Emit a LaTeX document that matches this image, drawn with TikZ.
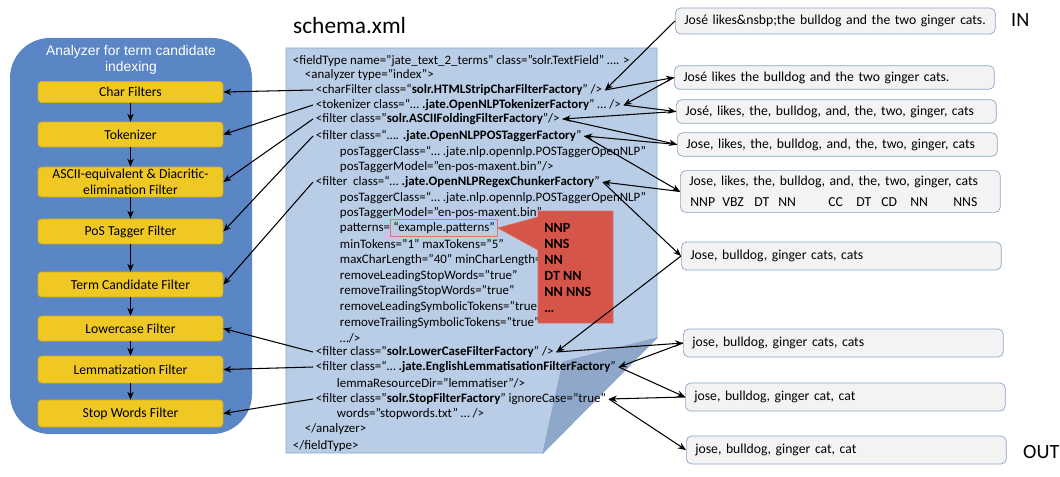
\documentclass[tikz,border=0pt]{standalone}
\usepackage{fontspec}
\setmainfont{Carlito}
\newfontfamily\arialfont{Liberation Sans}
\usetikzlibrary{positioning,arrows.meta}

\definecolor{panelblue}{HTML}{5A86C5}
\definecolor{stepgold}{HTML}{EFC824}
\definecolor{stepedge}{HTML}{D6AE14}
\definecolor{pagefill}{HTML}{B9CDE6}
\definecolor{pageedge}{HTML}{8AA6CE}
\definecolor{pagefold}{HTML}{8FA7C8}
\definecolor{calloutred}{HTML}{D5554A}
\definecolor{outfill}{HTML}{F3F3F3}
\definecolor{outedge}{HTML}{8DA4C6}

\begin{document}
\begin{tikzpicture}[x=0.02cm, y=-0.02cm,
  fbox/.style={fill=stepgold, draw=stepedge, rounded corners=2pt, minimum width=3.7cm, align=center, inner sep=1pt, font=\fontsize{7.8}{9}\selectfont},
  xl/.style={anchor=west, inner sep=1.5pt, font=\fontsize{7.35}{8}\selectfont},
  hl/.style={draw=calloutred!80, inner sep=1.5pt, font=\fontsize{7.35}{8}\selectfont},
  obox/.style={fill=outfill, draw=outedge, rounded corners=3pt, anchor=west, minimum width=6.4cm, text width=6.04cm, inner xsep=0.18cm, align=left, font=\fontsize{7.8}{9}\selectfont},
  tag/.style={anchor=west, inner sep=0pt, font=\fontsize{7.8}{9}\selectfont},
  arr/.style={-{Stealth[length=1.6mm,width=1.3mm]}, line width=0.6pt},
  lb/.style={anchor=west, font=\fontsize{11.5}{12}\selectfont},
]
\useasboundingbox (0,0) rectangle (1060,476);

% analyzer panel
\fill[panelblue, rounded corners=0.8cm] (10,38) rectangle (252,434);
\node[text=white, align=center, font=\arialfont\fontsize{7.9}{9.3}\selectfont] (head) at (131,60) {Analyzer for term candidate\\indexing};
\node[fbox, minimum height=0.42cm] (cf) at (130.5,92) {Char Filters};
\node[fbox, minimum height=0.5cm] (tk) at (130.5,134.5) {Tokenizer};
\node[fbox, minimum height=0.6cm] (af) at (130.5,182) {ASCII-equivalent \& Diacritic-\\elimination Filter};
\node[fbox, minimum height=0.5cm] (pt) at (130.5,231.5) {PoS Tagger Filter};
\node[fbox, minimum height=0.5cm] (tc) at (130.5,284.5) {Term Candidate Filter};
\node[fbox, minimum height=0.5cm] (lc) at (130.5,328.5) {Lowercase Filter};
\node[fbox, minimum height=0.54cm] (lm) at (130.5,369.5) {Lemmatization Filter};
\node[fbox, minimum height=0.54cm] (sw) at (130.5,413.5) {Stop Words Filter};
\foreach \a/\b in {cf/tk, tk/af, af/pt, pt/tc, tc/lc, lc/lm, lm/sw}
  \draw[arr] (\a) -- (\b);

% schema.xml page with folded corner
\node[anchor=west, font=\fontsize{13.3}{15}\selectfont] (title) at (287,25) {schema.xml};
\filldraw[fill=pagefill, draw=pageedge] (286,48) -- (657,48) -- (657,338) -- (563,362) -- (543,453) -- (286,453) -- cycle;
\filldraw[fill=pagefold, draw=pageedge] (657,338) -- (563,362) -- (543,453) -- cycle;

\node[xl] (x1) at (290,61) {<fieldType name="jate\_text\_2\_terms" class="solr.TextField” …. >};
\node[xl] (x2) at (302,75) {<analyzer type="index">};
\node[xl] (charF) at (313,90) {<charFilter class=“\textbf{solr.HTMLStripCharFilterFactory}” />};
\node[xl] (tok) at (313,105) {<tokenizer class=“… \textbf{.jate.OpenNLPTokenizerFactory}” … />};
\node[xl] (ascii) at (313,119) {<filter class="\textbf{solr.ASCIIFoldingFilterFactory}"/>};
\node[xl] (pos) at (313,136) {<filter class=“…. \textbf{.jate.OpenNLPPOSTaggerFactory}”};
\node[xl] (x7) at (337,152) {posTaggerClass=“… .jate.nlp.opennlp.POSTaggerOpenNLP”};
\node[xl] (x8) at (337,167) {posTaggerModel="en-pos-maxent.bin"/>};
\node[xl] (chunk) at (313,182) {<filter\ \ class=“… \textbf{.jate.OpenNLPRegexChunkerFactory}”};
\node[xl] (x10) at (337,198) {posTaggerClass=“… .jate.nlp.opennlp.POSTaggerOpenNLP”};
\node[xl] (x11) at (337,213) {posTaggerModel="en-pos-maxent.bin”};
\node[xl] (pa) at (337,228) {patterns=};
\node[hl, right=-1.5pt of pa] (pv) {“example.patterns”};
\node[xl] (x13) at (337,244) {minTokens="1" maxTokens="5”};
\node[xl] (x14) at (337,260) {maxCharLength="40" minCharLength="};
\node[xl] (x15) at (337,276) {removeLeadingStopWords="true”};
\node[xl] (x16) at (337,291) {removeTrailingStopWords="true"};
\node[xl] (x17) at (337,307) {removeLeadingSymbolicTokens="true"};
\node[xl] (x18) at (337,323) {removeTrailingSymbolicTokens="true"};
\node[xl] (x19) at (337,338) {…/>};
\node[xl] (lower) at (313,352) {<filter class="\textbf{solr.LowerCaseFilterFactory}" />};
\node[xl] (lemma) at (313,367) {<filter class=“… \textbf{.jate.EnglishLemmatisationFilterFactory}”};
\node[xl] (x22) at (334,383) {lemmaResourceDir="lemmatiser"/>};
\node[xl] (stop) at (313,399) {<filter class="\textbf{solr.StopFilterFactory}" ignoreCase="true"};
\node[xl] (x24) at (334,414) {words="stopwords.txt" … />};
\node[xl] (x25) at (302,429) {</analyzer>};
\node[xl] (x26) at (290,446) {</fieldType>};

% patterns callout
\filldraw[fill=calloutred, draw=calloutred!85!white] (pv.east) -- (538,217) -- (538,211) -- (613,211) -- (613,323) -- (538,323) -- (538,250) -- cycle;
\node[anchor=north west, inner sep=0pt, align=left, font=\bfseries\fontsize{8}{9.1}\selectfont] (pat) at (544,223) {NNP\\NNS\\NN\\DT NN\\NN NNS\\…};

% token streams
\node[obox, minimum height=0.52cm] (r1) at (675,21) {José likes\&nsbp;the bulldog and the two ginger cats.};
\node[obox, minimum height=0.44cm] (r2) at (674,77.5) {José likes the bulldog and the two ginger cats.};
\node[obox, minimum height=0.42cm] (r3) at (676,111.5) {José, likes, the, bulldog, and, the, two, ginger, cats};
\node[obox, minimum height=0.42cm] (r4) at (677,144.5) {Jose, likes, the, bulldog, and, the, two, ginger, cats};
\node[obox, minimum height=0.74cm] (r5) at (680,191.5) {Jose, likes, the, bulldog, and, the, two, ginger, cats\\\strut};
\foreach \tg/\tx [count=\i] in {NNP/690, VBZ/722, DT/754, NN/778, CC/828, DT/856, CD/881, NN/910, NNS/953}
  \node[tag] (tag\i) at (\tx,202) {\tg};
\node[obox, minimum height=0.56cm] (r6) at (681,256) {Jose, bulldog, ginger cats, cats};
\node[obox, minimum height=0.56cm] (r7) at (683,343) {jose, bulldog, ginger cats, cats};
\node[obox, minimum height=0.56cm] (r8) at (685,397) {jose, bulldog, ginger cat, cat};
\node[obox, minimum height=0.56cm] (r9) at (686,450) {jose, bulldog, ginger cat, cat};
\node[lb] (in) at (1005,20) {IN};
\node[lb] (out) at (1017,452) {OUT};

% xml lines -> analyzer steps
\foreach \xs/\fb in {charF/cf, tok/tk, ascii/af, pos/pt, chunk/tc, lower/lc, lemma/lm, stop/sw}
  \draw[arr] (\xs.west) -- (\fb.east);
% stream in -> step -> stream out
\foreach \xs/\rin/\rout in {charF/r1/r2, tok/r2/r3, ascii/r3/r4, pos/r4/r5, chunk/r5/r6, lower/r6/r7, lemma/r7/r8, stop/r8/r9} {
  \draw[arr] (\rin.west) -- (\xs.east);
  \draw[arr] (\xs.east) -- (\rout.west);
}
\end{tikzpicture}
\end{document}
